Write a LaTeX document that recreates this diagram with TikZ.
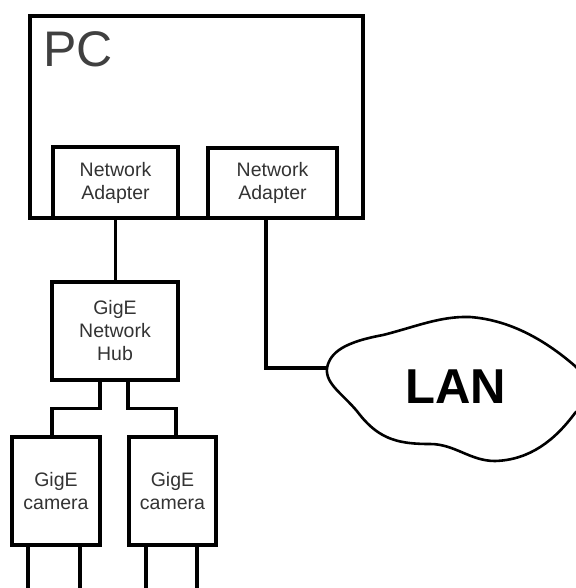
\documentclass[tikz,border=0pt]{standalone}
\usepackage{fontspec}
\setmainfont{Liberation Sans}
\usetikzlibrary{positioning}

\begin{document}
\begin{tikzpicture}[
  x=1pt, y=-1pt,
  box/.style={rectangle, draw=black, line width=3.2pt, inner sep=0pt, align=center,
              font=\fontsize{19.5}{23}\selectfont, text=black!80},
  wire/.style={line width=3.2pt, draw=black},
]
\useasboundingbox (0,0) rectangle (575,588);

% --- PC mit Netzwerkkarten ---
\node[box, minimum width=333pt, minimum height=202pt] (pc) at (196.5,117) {};
\node[anchor=north west, inner sep=0pt, font=\fontsize{50}{50}\selectfont, text=black!75]
      (pclbl) at (43,31) {PC};
\node[box, minimum width=125pt, minimum height=71pt] (adA) at (115.5,182.5) {Network\\Adapter};
\node[box, minimum width=129pt, minimum height=70pt] (adB) at (272.5,183)   {Network\\Adapter};

% --- Hub und Kameras ---
\node[box, minimum width=126pt, minimum height=98pt]  (hub)  at (115,331)   {GigE\\Network\\Hub};
\node[box, minimum width=88pt,  minimum height=108pt] (cam1) at (56,491)    {GigE\\camera};
\node[box, minimum width=87pt,  minimum height=108pt] (cam2) at (172.5,491) {GigE\\camera};

% --- LAN-Wolke ---
\coordinate (lanW) at (327,368);
\draw[wire, line width=2.6pt] (lanW)
  .. controls (330,352) and (345,342) .. (383,335)
  .. controls (415,327) and (440,316) .. (470,317)
  .. controls (510,320) and (545,340) .. (575,366)
  .. controls (595,385) and (590,400) .. (575,413)
  .. controls (555,440) and (530,460) .. (495,461)
  .. controls (470,461) and (455,444) .. (430,444)
  .. controls (400,444) and (380,440) .. (360,415)
  .. controls (345,395) and (325,385) .. (lanW) -- cycle;
\node[inner sep=0pt, font=\bfseries\fontsize{49}{49}\selectfont] (lan) at (456,387) {LAN};

% --- Verbindungen ---
\draw[wire] (adA.south) -- (adA.south |- hub.north);
\draw[wire] ([xshift=-6.5pt]adB.south) |- (lanW);
\draw[wire] ([xshift=-15pt]hub.south) -- ++(0,27) -| ([xshift=-4pt]cam1.north);
\draw[wire] ([xshift=13pt]hub.south) -- ++(0,27) -| ([xshift=3.5pt]cam2.north);
\draw[wire] ([xshift=-28pt]cam1.south) -- ++(0,45);
\draw[wire] ([xshift=24pt]cam1.south)  -- ++(0,45);
\draw[wire] ([xshift=-26.5pt]cam2.south) -- ++(0,45);
\draw[wire] ([xshift=24.5pt]cam2.south)  -- ++(0,45);
\end{tikzpicture}
\end{document}
